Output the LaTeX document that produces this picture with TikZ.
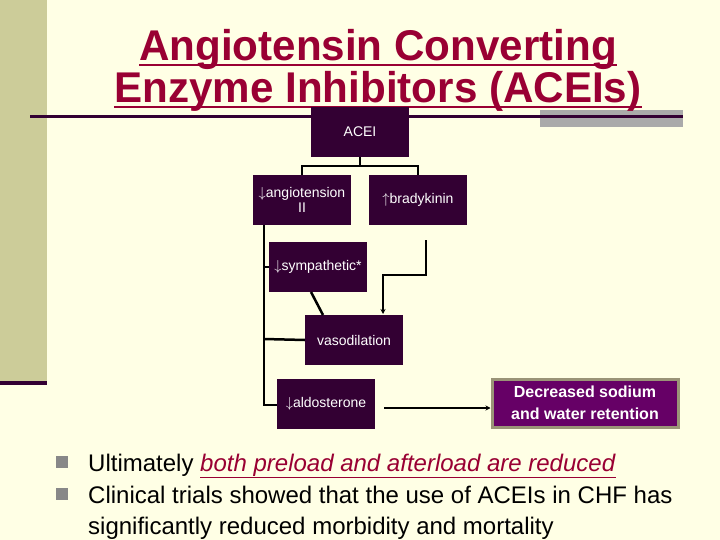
\documentclass[tikz,border=0pt]{standalone}
\usepackage{fontspec}
\setmainfont{Liberation Sans}
\usetikzlibrary{arrows.meta}
\definecolor{bg}{HTML}{FFFFE5}
\definecolor{band}{HTML}{CCCC99}
\definecolor{dk}{HTML}{330033}
\definecolor{pur}{HTML}{660066}
\definecolor{titc}{HTML}{990033}
\definecolor{gbar}{HTML}{AAAAAA}
\definecolor{brd}{HTML}{9A9477}
\tikzset{
 box/.style={fill=dk,text=white,minimum width=98pt,minimum height=50pt,inner sep=1pt,align=center,font=\fontsize{14}{15}\selectfont},
 conn/.style={draw=black,line width=2.5pt},
 arr/.style={draw=black,line width=2pt,-{Stealth[length=5pt,width=5pt]}},
 ttl/.style={font=\bfseries\fontsize{43}{46}\selectfont,text=titc,inner sep=0,anchor=base}
}
\begin{document}
\begin{tikzpicture}[x=1pt,y=-1pt]
\useasboundingbox (0,0) rectangle (720,540);
\fill[bg] (0,0) rectangle (720,540);
\fill[band] (0,0) rectangle (47,383);
\fill[dk] (0,381) rectangle (47,385);
\fill[gbar] (540,110) rectangle (683,127);
\draw[dk,line width=3pt] (30,117) -- (683,117);
\node[ttl] (t1) at (378,61) {\scalebox{0.98}[1]{Angiotensin Converting}};
\node[ttl] (t2) at (378,103) {\scalebox{0.98}[1]{Enzyme Inhibitors (ACEIs)}};
\draw[titc,line width=2.5pt] (t1.base west)++(0,4) -- ([yshift=-4pt]t1.base east);
\draw[titc,line width=2.5pt] (t2.base west)++(0,4) -- ([yshift=-4pt]t2.base east);
\node[box] (acei) at (360,132) {ACEI};
\node[box] (ang) at (302,200) {$\downarrow$angiotension\\II};
\node[box] (bra) at (418,200) {$\uparrow$bradykinin};
\node[box] (sym) at (318,267) {$\downarrow$sympathetic*};
\node[box] (vas) at (354,340) {vasodilation};
\node[box] (ald) at (326,404) {$\downarrow$aldosterone};
\node[fill=pur,draw=brd,line width=3pt,text=white,minimum width=186pt,minimum height=48pt,align=center,font=\bfseries\fontsize{16}{22}\selectfont] (dec) at (585,403) {Decreased sodium\\and water retention};
\coordinate (j1) at (360,166);
\draw[conn] (acei.south) -- (j1);
\draw[conn] (ang.north) -- (302,166) -- (418,166) -- (bra.north);
\coordinate (lt) at (264,225);
\coordinate (lb) at (264,405);
\draw[conn] (lt) -- (lb) -- (ald.west|-lb);
\draw[conn] (264,267) -- (sym.west);
\draw[conn] (264,339) -- (vas.west);
\coordinate (b0) at (426,240);
\draw[arr] (b0) -- (426,275) -- (383,275) -- (383,314);
\draw[conn] (311,292) -- (323,315);
\coordinate (a0) at (384,408);
\draw[arr] (a0) -- (dec.west|-a0);
\fill[gbar!80!black] (56,456) rectangle (68,468);
\fill[gbar!80!black] (56,488) rectangle (68,500);
\node[anchor=base west,font=\fontsize{24}{31}\selectfont,inner sep=0] (b1) at (88,471)
 {Ultimately \textcolor{titc}{\underline{\textit{both preload and afterload are reduced}}}};
\node[anchor=base west,font=\fontsize{24}{31}\selectfont,inner sep=0] (b2) at (88,503)
 {Clinical trials showed that the use of ACEIs in CHF has};
\node[anchor=base west,font=\fontsize{24}{31}\selectfont,inner sep=0] (b3) at (88,534)
 {significantly reduced morbidity and mortality};
\end{tikzpicture}
\end{document}
